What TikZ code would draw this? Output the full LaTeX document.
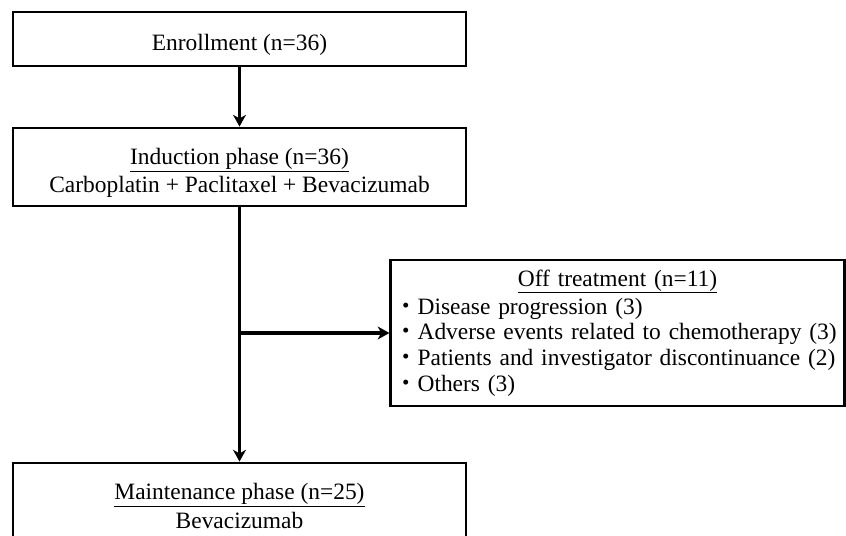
\documentclass[tikz,border=0pt]{standalone}
\usepackage{fontspec}
\setmainfont{Liberation Serif}
\newfontfamily\cjk{Noto Sans CJK JP}
\usetikzlibrary{arrows.meta}

\tikzset{
    stagebox/.style={draw, line width=2.4pt, fill=white, align=center,
        minimum width=13.59cm, inner sep=0pt,
        font=\fontsize{20}{24}\selectfont},
    flow/.style={line width=2.6pt, -{Stealth[length=10pt,width=11pt,inset=3pt]}}
}
\newcommand{\offitem}[1]{{\cjk ・}#1}
\newcommand{\topstrut}{\rule{0pt}{24pt}}

\begin{document}
\begin{tikzpicture}[x=0.03cm, y=-0.03cm]
    \useasboundingbox (0,0) rectangle (846,535);
    \clip (0,0) rectangle (846,535);

    % Stages
    \node[stagebox, minimum height=1.62cm] (enroll) at (239.5,39) {\topstrut Enrollment (n=36)};
    \node[stagebox, minimum height=2.34cm] (induct) at (239.5,167)
        {\topstrut\underline{Induction phase (n=36)}\\Carboplatin + Paclitaxel + Bevacizumab};
    \node[stagebox, minimum height=2.58cm] (maint) at (239.5,506)
        {\underline{Maintenance phase (n=25)}\\Bevacizumab};

    % Off treatment
    \node[stagebox, align=left, text width=13.4cm, inner xsep=0.1cm,
          minimum height=4.38cm, font=\fontsize{20}{22}\selectfont] (off) at (617.5,333)
        {\makebox[\linewidth]{\underline{Off treatment (n=11)}}\\[2pt]
         \offitem{Disease progression (3)}\\
         \offitem{Adverse events related to chemotherapy (3)}\\
         \offitem{Patients and investigator discontinuance (2)}\\
         \offitem{Others (3)}};

    % Arrows
    \draw[flow] (enroll) -- (induct);
    \draw[flow] (induct) -- (maint);
    \draw[flow] (induct.south |- off.west) -- (off.west);
\end{tikzpicture}
\end{document}
